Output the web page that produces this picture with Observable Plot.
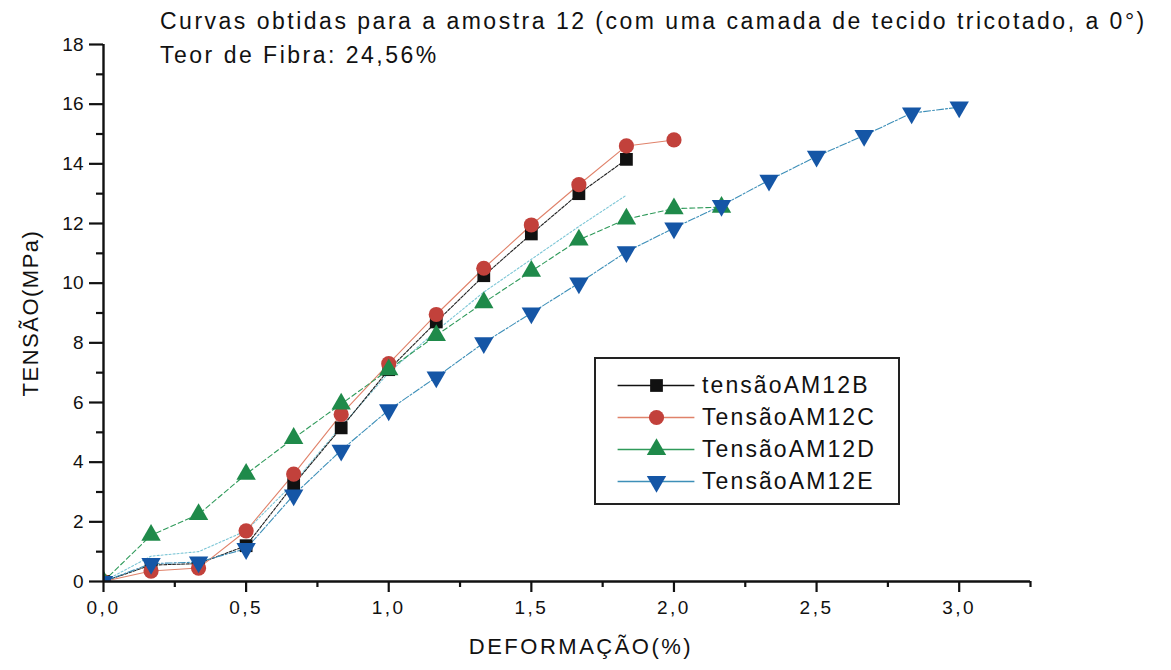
<!DOCTYPE html>
<html>
<head>
<meta charset="utf-8">
<script src="https://cdn.jsdelivr.net/npm/d3@7"></script>
<script src="https://cdn.jsdelivr.net/npm/@observablehq/plot@0.6"></script>
<style>
  html, body { margin: 0; padding: 0; background: #fff; }
  #wrap { position: relative; width: 1171px; height: 670px; font-family: "Liberation Sans", Arial, sans-serif; color: #111; }
  .title { position: absolute; left: 160px; font-size: 23px; letter-spacing: 2.5px; white-space: nowrap; line-height: 1; }
  #legend { position: absolute; left: 594px; top: 357px; width: 302px; height: 144px; border: 2px solid #222; background: #fff; }
  #legend .row { position: absolute; left: 0; height: 32px; display: flex; align-items: center; }
  #legend .row span { font-size: 23px; letter-spacing: 2.1px; margin-left: 6px; white-space: nowrap; }
  #chart { position: absolute; left: 0; top: 0; }
</style>
</head>
<body>
<div id="wrap">
  <div id="chart"></div>
  <div class="title" style="top:10px">Curvas obtidas para a amostra 12 (com uma camada de tecido tricotado, a 0°)</div>
  <div class="title" style="top:44px">Teor de Fibra: 24,56%</div>
  <div id="legend"></div>
</div>
<script>
// Strain steps (%) shared by every test curve
const deformacao = [0, 0.1667, 0.3333, 0.5, 0.6667, 0.8333, 1.0, 1.1667, 1.3333, 1.5, 1.6667, 1.8333,
                    2.0, 2.1667, 2.3333, 2.5, 2.6667, 2.8333, 3.0];

// Stress (MPa) for each specimen
const tensaoAM12B = [0, 0.55, 0.6, 1.2, 3.25, 5.15, 7.1, 8.7, 10.25, 11.65, 13.0, 14.15];
const tensaoAM12C = [0, 0.35, 0.45, 1.7, 3.6, 5.6, 7.3, 8.95, 10.5, 11.95, 13.3, 14.6, 14.8];
const tensaoAM12D = [0, 1.55, 2.25, 3.6, 4.8, 5.95, 7.1, 8.25, 9.35, 10.4, 11.45, 12.15, 12.5, 12.55];
const tensaoAM12E = [0, 0.6, 0.65, 1.1, 2.9, 4.4, 5.75, 6.85, 8.0, 9.0, 10.0, 11.05, 11.85, 12.6,
                     13.45, 14.25, 14.95, 15.7, 15.9];
// mean trace, drawn as a plain line without markers
const tensaoMedia = [0, 0.85, 1.0, 1.7, 3.3, 5.2, 7.0, 8.4, 9.7, 10.8, 11.9, 12.95];

const seriesNames = ["tensãoAM12B", "TensãoAM12C", "TensãoAM12D", "TensãoAM12E"];
const seriesValues = [tensaoAM12B, tensaoAM12C, tensaoAM12D, tensaoAM12E];
const markerFill = ["#111111", "#c2413b", "#1f8a4a", "#1556a6"];
const lineStroke = ["#222222", "#e0826a", "#2f9a5a", "#3d8fb8"];
const lineDash = ["3,1.5", "none", "5,3", "7,2,2,2"];
const markerSymbol = ["square", "circle", "triangle", "triangle"];
const markerRotate = [0, 0, 0, 180];
const markerR = [7.2, 7.6, 7.2, 7.2];

const xTicks = [0, 0.5, 1.0, 1.5, 2.0, 2.5, 3.0];
const xMinorTicks = [0.25, 0.75, 1.25, 1.75, 2.25, 2.75, 3.25];
const yTicks = [0, 2, 4, 6, 8, 10, 12, 14, 16, 18];
const yMinorTicks = [1, 3, 5, 7, 9, 11, 13, 15, 17];

const xTitle = "DEFORMAÇÃO(%)";
const yTitle = "TENSÃO(MPa)";

const rows = seriesNames.map((name, i) =>
  seriesValues[i].map((v, k) => ({serie: name, idx: i, x: deformacao[k], y: v}))
);
const mediaRows = tensaoMedia.map((v, k) => ({x: deformacao[k], y: v}));

const fmt = d => d.toFixed(1).replace(".", ",");

const marks = [
  Plot.line(mediaRows, {x: "x", y: "y", stroke: "#7cc6d6", strokeWidth: 1.1, strokeDasharray: "2,2"}),
  ...rows.map((data, i) => Plot.line(data, {
    x: "x", y: "y", stroke: lineStroke[i], strokeWidth: 1.1, strokeDasharray: lineDash[i]
  })),
  ...rows.map((data, i) => Plot.dot(data, {
    x: "x", y: "y", symbol: markerSymbol[i], rotate: markerRotate[i], r: markerR[i],
    fill: markerFill[i], stroke: "none", clip: true
  })),
  // axes: major ticks with labels, minor ticks without
  Plot.axisX(xTicks, {tickSize: 11, strokeWidth: 2.2, tickFormat: fmt, tickPadding: 8, fontSize: 19,
                      label: null, stroke: "#111", fill: "#111"}),
  Plot.axisX(xMinorTicks, {tickSize: 6, strokeWidth: 2.2, tickFormat: () => "", label: null, stroke: "#111"}),
  Plot.axisY(yTicks, {tickSize: 14, strokeWidth: 2.2, tickPadding: 6, fontSize: 19, label: null,
                      stroke: "#111", fill: "#111"}),
  Plot.axisY(yMinorTicks, {tickSize: 7, strokeWidth: 2.2, tickFormat: () => "", label: null, stroke: "#111"}),
  Plot.ruleY([0], {stroke: "#111", strokeWidth: 2.4}),
  Plot.ruleX([0], {stroke: "#111", strokeWidth: 2.4}),
  Plot.text([xTitle], {frameAnchor: "bottom", dx: 14, dy: 72, fontSize: 22, fill: "#111", text: d => d}),
  Plot.text([yTitle], {frameAnchor: "left", dx: -73, rotate: -90, fontSize: 22, fill: "#111",
                      textAnchor: "middle", text: d => d})
];

const chart = Plot.plot({
  width: 1171,
  height: 670,
  marginLeft: 103,
  marginRight: 141,
  marginTop: 44,
  marginBottom: 89,
  style: {fontFamily: "Liberation Sans, Arial, sans-serif", fontSize: "19px", background: "transparent", overflow: "visible"},
  x: {domain: [0, 3.25]},
  y: {domain: [0, 18]},
  marks
});
// letter spacing for the axis titles and the x tick labels
chart.querySelectorAll("text").forEach(t => {
  const s = t.textContent;
  if (s === xTitle) t.setAttribute("letter-spacing", "2.5");
  else if (s === yTitle) t.setAttribute("letter-spacing", "1.5");
  else if (/^\d,\d$/.test(s)) t.setAttribute("letter-spacing", "2.5");
});
document.getElementById("chart").appendChild(chart);

// legend box entries
const legend = document.getElementById("legend");
seriesNames.forEach((name, i) => {
  const row = document.createElement("div");
  row.className = "row";
  row.style.top = (10 + i * 32) + "px";
  const sym = Plot.plot({
    width: 80, height: 32, margin: 0,
    x: {domain: [0, 1], axis: null}, y: {domain: [0, 1], axis: null},
    style: {overflow: "visible", background: "transparent"},
    marks: [
      Plot.ruleY([0.5], {x1: 0.02, x2: 0.98, stroke: lineStroke[i] === "#222222" ? "#111" : lineStroke[i], strokeWidth: 1.3}),
      Plot.dot([0.5], {x: d => d, y: 0.5, symbol: markerSymbol[i], rotate: markerRotate[i], r: markerR[i], fill: markerFill[i]})
    ]
  });
  sym.style.marginLeft = "20px";
  row.appendChild(sym);
  const label = document.createElement("span");
  label.textContent = name;
  row.appendChild(label);
  legend.appendChild(row);
});
</script>
</body>
</html>
